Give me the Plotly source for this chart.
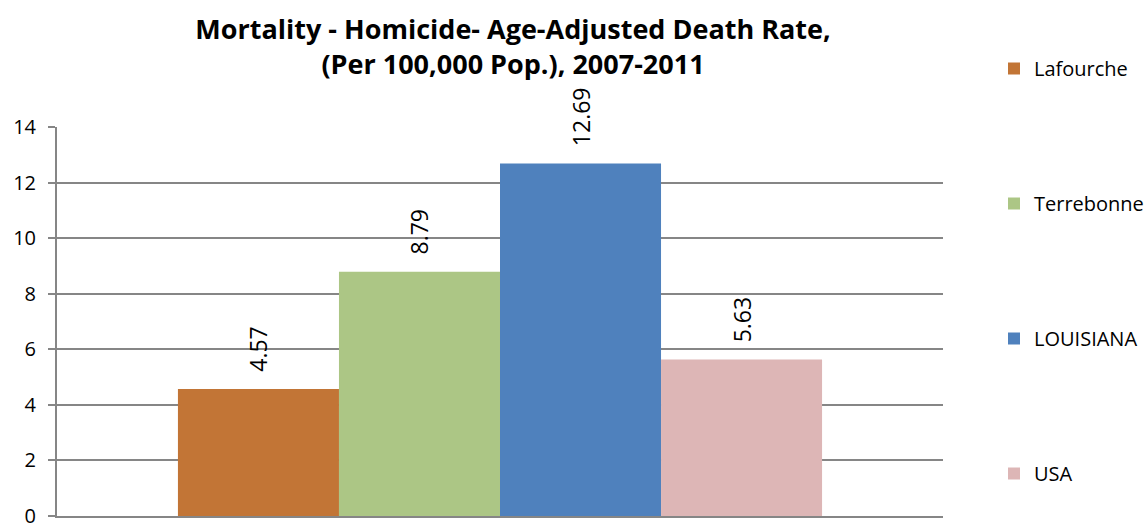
import plotly.graph_objects as go

categories = [""]
series_names = ["Lafourche", "Terrebonne", "LOUISIANA", "USA"]
series_values = [4.57, 8.79, 12.69, 5.63]
series_colors = ["#C27536", "#ACC685", "#4F81BD", "#DDB6B6"]
y_ticks = [0, 2, 4, 6, 8, 10, 12, 14]

title_text = "Mortality - Homicide- Age-Adjusted Death Rate,<br>(Per 100,000 Pop.), 2007-2011"

fig = go.Figure()
for name, val, col in zip(series_names, series_values, series_colors):
    fig.add_trace(go.Bar(
        x=categories, y=[val], name=name, legendgroup=name,
        marker=dict(color=col, line=dict(width=0)),
        text=["\u00a0\u00a0\u200a" + f"{val:.2f}"], textposition="outside",
        textangle=-90, textfont=dict(family="Open Sans", size=23, color="#000000"),
        cliponaxis=False,
    ))

fig.update_layout(
    width=1147, height=523,
    margin=dict(l=57, r=204, t=127, b=7, autoexpand=False),
    paper_bgcolor="white", plot_bgcolor="white",
    barmode="group", bargap=0.273, bargroupgap=0,
    title=dict(text=title_text, x=513 / 1147, xanchor="center",
               y=1 - 39 / 523, yanchor="middle",
               font=dict(family="Open Sans", size=27, color="#000000", weight="bold")),
    font=dict(family="Open Sans", color="#000000"),
    showlegend=True,
    legend=dict(x=(994 - 57) / 886, xanchor="left", y=(516 - 49) / 389, yanchor="top",
                tracegroupgap=106, maxheight=520,
                font=dict(family="Open Sans", size=20, color="#000000"),
                bgcolor="rgba(0,0,0,0)", itemwidth=30),
    xaxis=dict(showticklabels=False, showline=True, linecolor="#868686", linewidth=2,
               showgrid=False, ticks="", zeroline=False),
    yaxis=dict(range=[0, 14], tickvals=y_ticks, showline=True, linecolor="#868686", linewidth=2,
               showgrid=True, gridcolor="#868686", gridwidth=1.5, ticks="outside",
               ticklen=7, tickcolor="#868686", tickwidth=1.5, zeroline=False,
               ticklabeloverflow="allow",
               tickfont=dict(family="Open Sans", size=20, color="#000000"), ticklabelstandoff=8),
)

fig.write_html("out.html", config={"displayModeBar": False},
               post_script="document.body.style.margin='0';document.body.style.overflow='hidden';")
